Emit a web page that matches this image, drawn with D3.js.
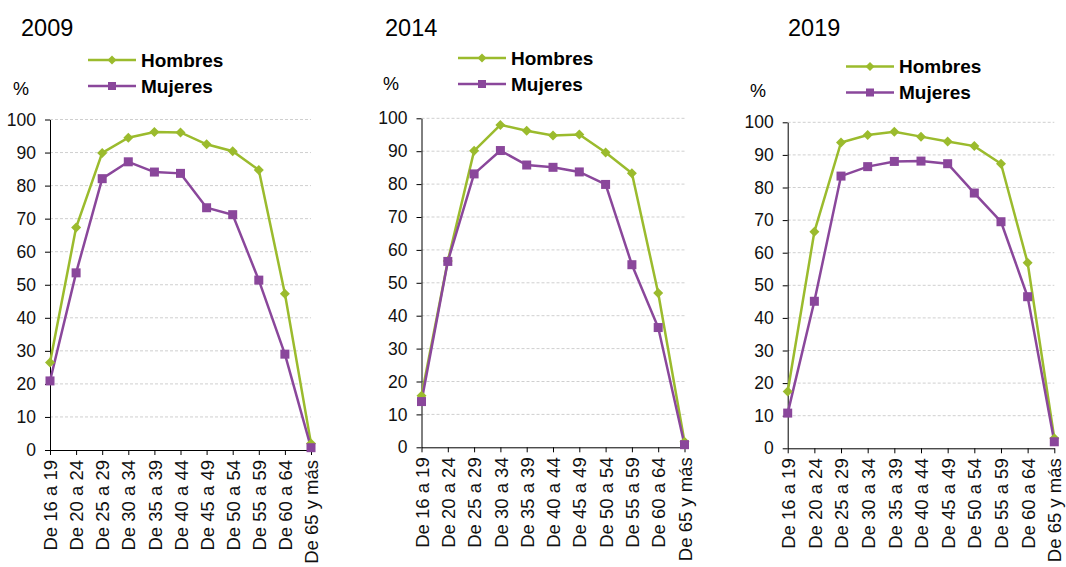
<!DOCTYPE html>
<html>
<head>
<meta charset="utf-8">
<script src="https://cdn.jsdelivr.net/npm/d3@7"></script>
<style>
  body { margin: 0; background: #fff; }
  svg { font-family: "Liberation Sans", Arial, sans-serif; }
  .grid line { stroke: #cfcfcf; stroke-dasharray: 3,2; }
  .axis path, .axis line { stroke: #000; }
  .axis text { font-size: 17.5px; fill: #111; }
</style>
</head>
<body>
<div id="chart"></div>
<script>
var svgWidth = 1066;
var svgHeight = 567;

// age groups (x categories)
var ageGroups = ["De 16 a 19", "De 20 a 24", "De 25 a 29", "De 30 a 34", "De 35 a 39",
  "De 40 a 44", "De 45 a 49", "De 50 a 54", "De 55 a 59", "De 60 a 64", "De 65 y más"];

var years = ["2009", "2014", "2019"];
var yTicks = [0, 10, 20, 30, 40, 50, 60, 70, 80, 90, 100];

// values (%)
var hombres2009 = [26.5, 67.3, 89.9, 94.5, 96.2, 96.1, 92.5, 90.4, 84.7, 47.3, 2.0];
var mujeres2009 = [20.9, 53.6, 82.1, 87.2, 84.1, 83.7, 73.3, 71.2, 51.4, 29.0, 0.7];
var hombres2014 = [15.7, 56.6, 90.1, 98.0, 96.2, 94.8, 95.1, 89.6, 83.3, 46.9, 1.7];
var mujeres2014 = [13.9, 56.5, 83.1, 90.2, 85.8, 85.1, 83.7, 79.9, 55.5, 36.4, 0.8];
var hombres2019 = [17.4, 66.4, 93.8, 96.1, 97.1, 95.6, 94.1, 92.7, 87.3, 56.9, 3.1];
var mujeres2019 = [10.8, 45.1, 83.5, 86.4, 88.0, 88.1, 87.3, 78.3, 69.5, 46.5, 2.0];

var hombresByYear = [hombres2009, hombres2014, hombres2019];
var mujeresByYear = [mujeres2009, mujeres2014, mujeres2019];

var green = "#9bbb2d";
var purple = "#8a479b";

// layout of each small chart
var panels = [
  { left: 50, right: 311, top: 119.5, bottom: 450, titleX: 21, pctX: 13, pctY: 95, legX: 88, legY: 60 },
  { left: 421.5, right: 684.5, top: 118.3, bottom: 447.3, titleX: 385, pctX: 383, pctY: 90, legX: 458, legY: 58 },
  { left: 787.7, right: 1054.3, top: 122.3, bottom: 448.3, titleX: 788, pctX: 750, pctY: 97, legX: 846, legY: 66.5 }
];

var svg = d3.select("#chart")
  .append("svg")
  .attr("width", svgWidth)
  .attr("height", svgHeight);

function diamond(sel, r) {
  sel.attr("d", `M0,${-r}L${r},0L0,${r}L${-r},0Z`);
}

panels.forEach(function(p, i) {
  var g = svg.append("g");

  var xScale = d3.scalePoint()
    .domain(ageGroups)
    .range([p.left, p.right]);

  var yScale = d3.scaleLinear()
    .domain([0, 100])
    .range([p.bottom, p.top]);

  // gridlines
  g.append("g")
    .attr("class", "grid")
    .selectAll("line")
    .data(yTicks.filter(d => d > 0))
    .enter()
    .append("line")
    .attr("x1", p.left)
    .attr("x2", p.right)
    .attr("y1", d => yScale(d))
    .attr("y2", d => yScale(d));

  // y axis
  g.append("g")
    .attr("class", "axis")
    .attr("transform", `translate(${p.left},0)`)
    .call(d3.axisLeft(yScale).tickValues(yTicks).tickSize(5).tickPadding(9).tickSizeOuter(0));

  // x axis
  var xAxis = g.append("g")
    .attr("class", "axis")
    .attr("transform", `translate(0,${p.bottom})`)
    .call(d3.axisBottom(xScale).tickSize(5).tickSizeOuter(0));
  xAxis.selectAll("line").attr("stroke", "#888");
  xAxis.selectAll("text")
    .attr("transform", "rotate(-90)")
    .attr("text-anchor", "end")
    .attr("x", -10)
    .attr("y", 0)
    .attr("dy", "0.36em")
    .style("font-size", "18.5px");

  var line = d3.line()
    .x((d, j) => xScale(ageGroups[j]))
    .y(d => yScale(d));

  // Hombres
  g.append("path")
    .datum(hombresByYear[i])
    .attr("fill", "none")
    .attr("stroke", green)
    .attr("stroke-width", 2.5)
    .attr("d", line);

  // Mujeres
  g.append("path")
    .datum(mujeresByYear[i])
    .attr("fill", "none")
    .attr("stroke", purple)
    .attr("stroke-width", 2.5)
    .attr("d", line);

  g.selectAll(".hMark")
    .data(hombresByYear[i])
    .enter()
    .append("path")
    .attr("transform", (d, j) => `translate(${xScale(ageGroups[j])},${yScale(d)})`)
    .attr("fill", green)
    .call(diamond, 5);

  g.selectAll(".mMark")
    .data(mujeresByYear[i])
    .enter()
    .append("rect")
    .attr("x", (d, j) => xScale(ageGroups[j]) - 4.5)
    .attr("y", d => yScale(d) - 4.5)
    .attr("width", 9)
    .attr("height", 9)
    .attr("fill", purple);

  // title
  g.append("text")
    .attr("x", p.titleX)
    .attr("y", 36)
    .style("font-size", "23.5px")
    .text(years[i]);

  // % label
  g.append("text")
    .attr("x", p.pctX)
    .attr("y", p.pctY)
    .style("font-size", "18px")
    .text("%");

  // legend
  var legend = g.append("g")
    .attr("transform", `translate(${p.legX},${p.legY})`);

  var items = [
    { name: "Hombres", color: green, shape: "diamond" },
    { name: "Mujeres", color: purple, shape: "square" }
  ];

  items.forEach(function(item, k) {
    var row = legend.append("g").attr("transform", `translate(0,${k * 26})`);
    row.append("line")
      .attr("x1", 0).attr("x2", 48)
      .attr("y1", 0).attr("y2", 0)
      .attr("stroke", item.color)
      .attr("stroke-width", 2.5);
    if (item.shape === "diamond") {
      row.append("path")
        .attr("transform", "translate(24,0)")
        .attr("fill", item.color)
        .call(diamond, 4.5);
    } else {
      row.append("rect")
        .attr("x", 20).attr("y", -4)
        .attr("width", 8).attr("height", 8)
        .attr("fill", item.color);
    }
    row.append("text")
      .attr("x", 53)
      .attr("y", 0)
      .attr("dy", "0.35em")
      .style("font-size", "19px")
      .style("font-weight", "bold")
      .text(item.name);
  });
});
</script>
</body>
</html>
